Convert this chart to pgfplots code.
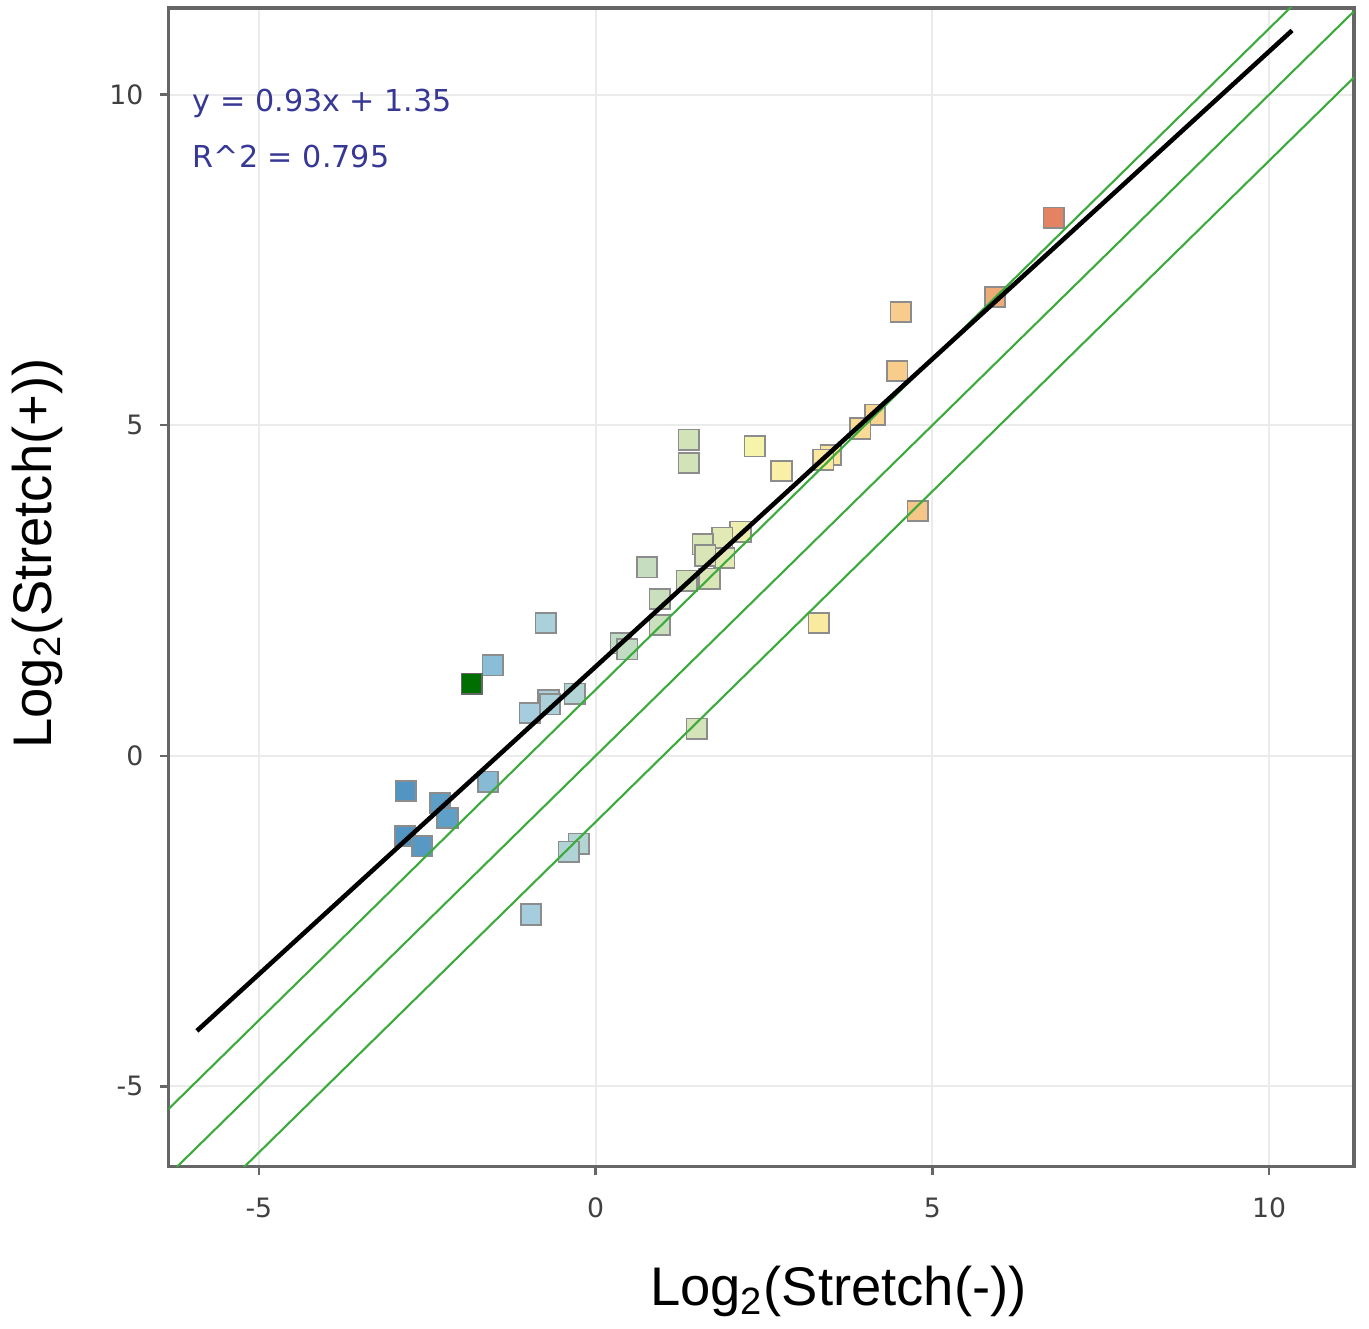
\documentclass[border=0pt]{standalone}
\usepackage{fontspec}
\setmainfont{DejaVu Sans}
\newfontfamily\labelfont{Liberation Sans}
\usepackage{pgfplots}
\usepackage{pgfplotstable}
\pgfplotsset{compat=1.18}

\definecolor{gline}{RGB}{60,170,60}
\definecolor{eqblue}{RGB}{55,55,150}
\definecolor{dgreen}{RGB}{0,110,0}

% log2 stretch(-) vs log2 stretch(+)
\pgfplotstableread{
x y
6.80 8.14
5.93 6.94
4.53 6.71
4.48 5.82
4.15 5.16
3.93 4.95
3.49 4.55
3.38 4.48
4.78 3.70
3.31 2.01
2.76 4.31
2.36 4.68
2.15 3.39
1.88 3.30
1.59 3.20
1.91 2.99
1.63 3.03
1.69 2.68
1.35 2.65
1.38 4.78
1.38 4.43
0.76 2.85
0.95 2.37
0.95 1.98
0.37 1.70
0.47 1.61
1.50 0.41
-0.31 0.94
-0.70 0.84
-0.68 0.78
-0.98 0.65
-0.74 2.01
-1.53 1.37
-1.60 -0.39
-2.82 -0.53
-2.31 -0.72
-2.20 -0.94
-2.83 -1.21
-2.58 -1.37
-0.25 -1.33
-0.40 -1.45
-0.96 -2.40
}\pts

\begin{document}
\begin{tikzpicture}
\begin{axis}[
  scale only axis,
  width=11.87cm, height=11.6cm,
  xmin=-6.34, xmax=11.26,
  ymin=-6.21, ymax=11.31,
  xtick={-5,0,5,10}, ytick={-5,0,5,10},
  grid=major,
  major grid style={draw=black!8, line width=0.6pt},
  axis line style={draw=black!60, line width=0.9pt},
  tick align=outside, tick pos=left,
  major tick length=0.09cm,
  tick style={draw=black!60, line width=0.7pt},
  /pgf/number format/assume math mode=true,
  tick label style={font=\fontsize{7.6}{9}\selectfont, text=black!75},
  xticklabel style={yshift=-0.1cm},
  yticklabel style={xshift=-0.04cm},
  xlabel={\labelfont Log\textsubscript{2}(Stretch(-))},
  ylabel={\labelfont Log\textsubscript{2}(Stretch(+))},
  label style={font=\fontsize{15.5}{18}\selectfont},
  xlabel style={at={(axis description cs:0.565,-0.108)}, anchor=center},
  ylabel style={at={(axis description cs:-0.111,0.529)}, anchor=center},
  clip mode=individual,
  colormap={stretch}{
    rgb255(0pt)=(78,145,192); rgb255(8pt)=(95,160,200);
    rgb255(15pt)=(140,190,215); rgb255(20pt)=(165,205,222);
    rgb255(27pt)=(178,212,212); rgb255(34pt)=(192,220,195);
    rgb255(44pt)=(210,226,185); rgb255(49pt)=(226,233,180);
    rgb255(54pt)=(248,244,170); rgb255(63pt)=(250,234,160);
    rgb255(75pt)=(248,205,140); rgb255(90pt)=(238,168,118);
    rgb255(100pt)=(226,122,92)},
]
\addplot[scatter, only marks, mark=square*, mark size=2.9pt,
  point meta=x, point meta min=-3, point meta max=7,
  scatter/use mapped color={draw=black!45, fill=mapped color},
  mark options={line width=0.5pt}] table {\pts};
\addplot[only marks, mark=square*, mark size=2.9pt,
  mark options={draw=black!60, fill=dgreen, line width=0.5pt}]
  coordinates {(-1.84,1.09)};
% reference lines y = x + c
\addplot[gline, line width=0.6pt] coordinates {(-8,-7) (12,13)};
\addplot[gline, line width=0.6pt] coordinates {(-8,-8) (12,12)};
\addplot[gline, line width=0.6pt] coordinates {(-7,-8) (13,12)};
% fit
\addplot[black, line width=1.3pt] coordinates {(-5.92,-4.16) (10.34,10.97)};
\node[anchor=west, text=eqblue, font=\fontsize{8.6}{10}\selectfont, inner sep=0pt]
  at (axis cs:-5.99,9.86) {y = 0.93x + 1.35};
\node[anchor=west, text=eqblue, font=\fontsize{8.6}{10}\selectfont, inner sep=0pt]
  at (axis cs:-5.99,9.06) {R\^{}2 = 0.795};
\coordinate (sw) at (rel axis cs:0,0);
\coordinate (ne) at (rel axis cs:1,1);
\end{axis}
\path ([shift={(-1.67cm,-1.57cm)}]sw) rectangle ([shift={(0.15cm,0.08cm)}]ne);
\end{tikzpicture}
\end{document}
